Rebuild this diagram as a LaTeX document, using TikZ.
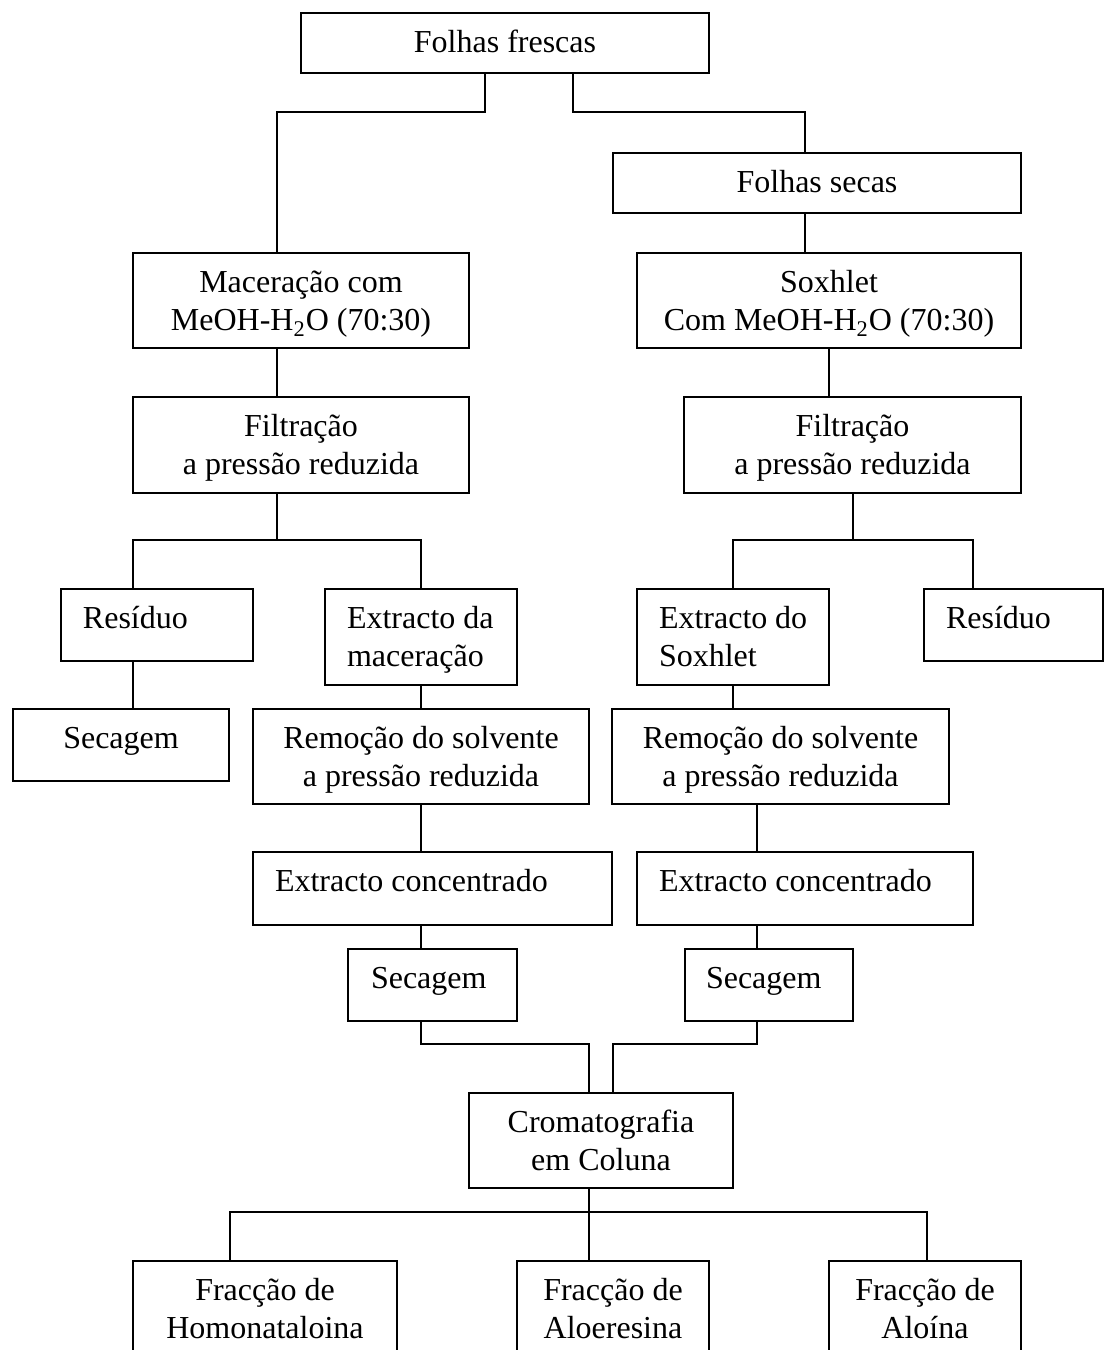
\documentclass[tikz,border=0pt]{standalone}
\usepackage{fontspec}
\setmainfont{Liberation Serif}
\tikzset{
	stage/.style={draw, line width=0.9pt, anchor=north, inner ysep=0pt, text height=20pt, align=center},
	twostage/.style={stage, text height=39pt},
	leftstage/.style={stage, align=flush left, inner xsep=11pt},
	link/.style={line width=0.75pt}
}
\begin{document}
\begin{tikzpicture}[x=0.5pt, y=-0.5pt, font=\fontsize{16}{19}\selectfont]
				\path[use as bounding box, clip] (0,0) rectangle (1105,1350);
				% extraction by maceration and by soxhlet
				\node[stage, minimum width=204pt, text depth=10pt] (fresh) at (505,12) {Folhas frescas};
				\node[stage, minimum width=204pt, text depth=10pt] (dry) at (817,152) {Folhas secas};
				\node[twostage, minimum width=168pt, text depth=8.5pt] (macer) at (301,252) {Maceração com\\MeOH-H\textsubscript{2}O (70:30)};
				\node[twostage, minimum width=192pt, text depth=8.5pt] (sox) at (829,252) {Soxhlet\\Com MeOH-H\textsubscript{2}O (70:30)};
				\node[twostage, minimum width=168pt, text depth=9pt] (filtL) at (301,396) {Filtração\\a pressão reduzida};
				\node[twostage, minimum width=168.5pt, text depth=9pt] (filtR) at (852.5,396) {Filtração\\a pressão reduzida};
				\node[leftstage, text width=74pt, text depth=16pt] (resL) at (157,588) {Resíduo};
				\node[leftstage, text width=74pt, text depth=28pt] (extL) at (421,588) {Extracto~da\\maceração};
				\node[leftstage, text width=74pt, text depth=28pt] (extR) at (733,588) {Extracto~do\\Soxhlet};
				\node[leftstage, text width=67.5pt, text depth=16pt] (resR) at (1013.5,588) {Resíduo};
				\node[stage, minimum width=108pt, text depth=16pt] (secL) at (121,708) {Secagem};
				\node[twostage, minimum width=168pt, text depth=8.5pt] (remL) at (421,708) {Remoção do solvente\\a pressão reduzida};
				\node[twostage, minimum width=168.5pt, text depth=8.5pt] (remR) at (780.5,708) {Remoção do solvente\\a pressão reduzida};
				\node[leftstage, text width=157.5pt, text depth=16.5pt] (concL) at (432.5,851) {Extracto concentrado};
				\node[leftstage, text width=146pt, text depth=16.5pt] (concR) at (805,851) {Extracto concentrado};
				\node[leftstage, inner xsep=11.5pt, text width=61.5pt, text depth=16pt] (secM) at (432.5,948) {Secagem};
				\node[leftstage, inner xsep=10.5pt, text width=63pt, text depth=16pt] (secR) at (769,948) {Secagem};
				% column chromatography
				\node[twostage, minimum width=132pt, text depth=8.5pt] (chrom) at (601,1092) {Cromatografia\\em Coluna};
				\node[twostage, minimum width=132pt, text depth=11pt] (fracH) at (265,1260) {Fracção de\\Homonataloina};
				\node[twostage, minimum width=96pt, text depth=11pt] (fracA) at (613,1260) {Fracção de\\Aloeresina};
				\node[twostage, minimum width=96pt, text depth=11pt] (fracB) at (925,1260) {Fracção de\\Aloína};
				% bends of the connectors
				\coordinate (forkA) at (485,112);
				\coordinate (forkB) at (277,112);
				\coordinate (forkC) at (573,112);
				\coordinate (forkD) at (805,112);
				\coordinate (splitL) at (277,540);
				\coordinate (dropL) at (133,540);
				\coordinate (splitR) at (853,540);
				\coordinate (dropR) at (973,540);
				\coordinate (laneL) at (421,1044);
				\coordinate (laneR) at (757,1044);
				\coordinate (joinL) at (589,1044);
				\coordinate (joinR) at (613,1044);
				\coordinate (fanL) at (230,1212);
				\coordinate (fanM) at (589,1212);
				\coordinate (fanR) at (927,1212);
				\draw[link] (fresh.south -| forkA) -- (forkA) -- (forkB) -- (forkB |- macer.north);
				\draw[link] (fresh.south -| forkC) -- (forkC) -- (forkD) -- (forkD |- dry.north);
				\draw[link] (dry.south -| forkD) -- (forkD |- sox.north);
				\draw[link] (macer.south -| forkB) -- (forkB |- filtL.north);
				\draw[link] (sox.south) -- (sox.south |- filtR.north);
				\draw[link] (filtL.south -| splitL) -- (splitL);
				\draw[link] (dropL |- resL.north) -- (dropL) -- (extL.north |- dropL) -- (extL.north);
				\draw[link] (filtR.south -| splitR) -- (splitR);
				\draw[link] (extR.north) -- (extR.north |- dropR) -- (dropR) -- (dropR |- resR.north);
				\draw[link] (resL.south -| dropL) -- (dropL |- secL.north);
				\draw[link] (extL.south) -- (extL.south |- remL.north);
				\draw[link] (extR.south) -- (extR.south |- remR.north);
				\draw[link] (remL.south -| laneL) -- (laneL |- concL.north);
				\draw[link] (remR.south -| laneR) -- (laneR |- concR.north);
				\draw[link] (concL.south -| laneL) -- (laneL |- secM.north);
				\draw[link] (concR.south -| laneR) -- (laneR |- secR.north);
				\draw[link] (secM.south -| laneL) -- (laneL) -- (joinL) -- (joinL |- chrom.north);
				\draw[link] (secR.south -| laneR) -- (laneR) -- (joinR) -- (joinR |- chrom.north);
				\draw[link] (chrom.south -| fanM) -- (fanM |- fracA.north);
				\draw[link] (fanL |- fracH.north) -- (fanL) -- (fanR) -- (fanR |- fracB.north);
\end{tikzpicture}
\end{document}
